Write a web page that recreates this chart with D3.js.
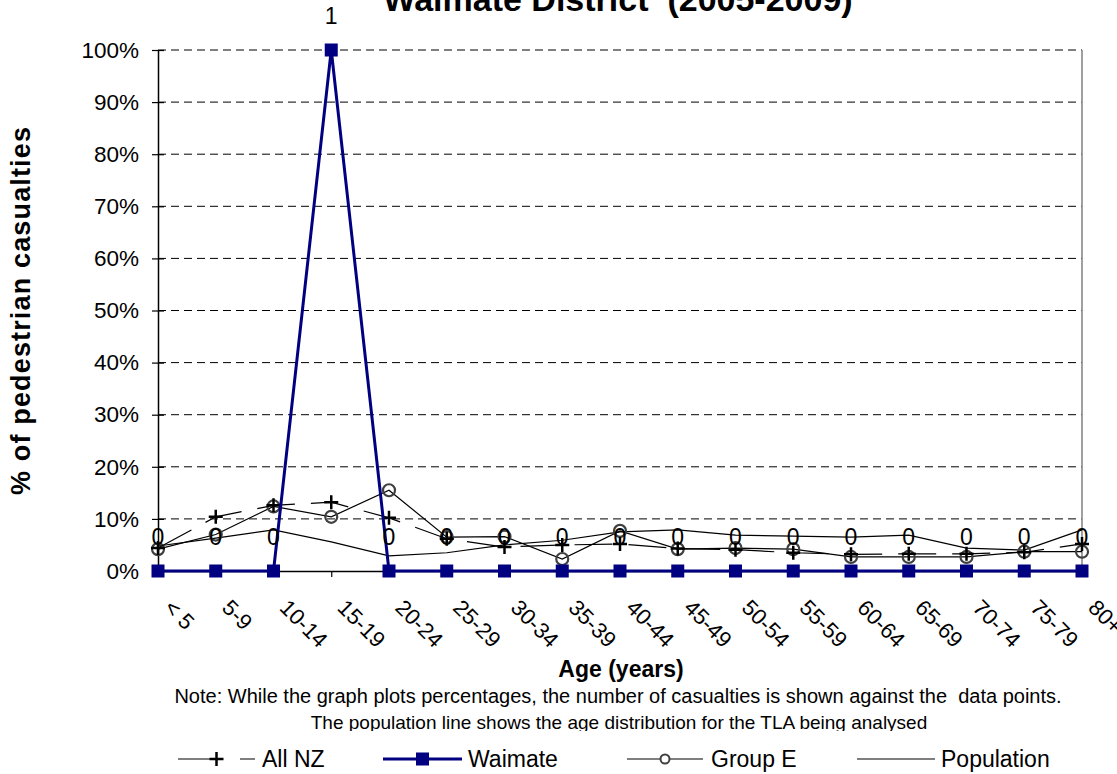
<!DOCTYPE html>
<html>
<head>
<meta charset="utf-8">
<script src="https://cdn.jsdelivr.net/npm/d3@7"></script>
<style>
  body { margin: 0; background: #fff; }
  svg { display: block; font-family: Arial, "Liberation Sans", sans-serif; }
</style>
</head>
<body>
<div class="chart"></div>
<script>
const ageGroups = ["< 5", "5-9", "10-14", "15-19", "20-24", "25-29", "30-34", "35-39", "40-44",
  "45-49", "50-54", "55-59", "60-64", "65-69", "70-74", "75-79", "80+"];
const allNZ = [4.4, 10.4, 12.6, 13.2, 10.2, 6.2, 4.6, 5.0, 5.2, 4.3, 4.1, 3.5, 3.2, 3.3, 3.3, 3.6, 5.2];
const waimate = [0, 0, 0, 100, 0, 0, 0, 0, 0, 0, 0, 0, 0, 0, 0, 0, 0];
const waimateCounts = [0, 0, 0, 1, 0, 0, 0, 0, 0, 0, 0, 0, 0, 0, 0, 0, 0];
const groupE = [4.2, 7.0, 12.4, 10.4, 15.5, 6.5, 6.6, 2.3, 7.7, 4.2, 4.4, 4.2, 2.7, 2.7, 2.7, 3.7, 3.7];
const population = [4.8, 6.3, 7.9, 5.6, 2.9, 3.5, 5.0, 5.9, 7.5, 7.9, 6.9, 6.7, 6.5, 6.9, 4.4, 4.0, 7.9];
const yTicks = [0, 10, 20, 30, 40, 50, 60, 70, 80, 90, 100];

const W = 1117, H = 774;
const plotLeft = 158, plotRight = 1082, plotTop = 50, plotBottom = 571;
const FONT = "Arial, 'Liberation Sans', sans-serif";

const svg = d3.select(".chart").append("svg")
  .attr("width", W).attr("height", H);

const x = d3.scalePoint().domain(ageGroups).range([plotLeft, plotRight]);
const y = d3.scaleLinear().domain([0, 100]).range([plotBottom, plotTop]);

// clip for the cut-off note line
svg.append("defs").append("clipPath").attr("id", "noteClip")
  .append("rect").attr("x", 0).attr("y", 0).attr("width", W).attr("height", 731);

// title (partly off the top)
svg.append("text")
  .attr("x", 618).attr("y", 11)
  .attr("text-anchor", "middle")
  .attr("xml:space", "preserve")
  .style("white-space", "pre")
  .style("font-weight", "bold").style("font-size", "34px")
  .text("Waimate District  (2005-2009)");

// gridlines
svg.append("g").selectAll("line")
  .data(yTicks.filter(d => d > 0))
  .join("line")
  .attr("x1", plotLeft).attr("x2", plotRight)
  .attr("y1", d => y(d)).attr("y2", d => y(d))
  .attr("stroke", "#000").attr("stroke-width", 1)
  .attr("stroke-dasharray", "8,5");

// right border
svg.append("line")
  .attr("x1", plotRight).attr("x2", plotRight).attr("y1", plotTop).attr("y2", plotBottom)
  .attr("stroke", "#808080").attr("stroke-width", 1.5);

// y axis
const yAxis = svg.append("g")
  .attr("transform", `translate(${plotLeft},0)`)
  .call(d3.axisLeft(y).tickValues(yTicks).tickFormat(d => d + "%").tickSizeInner(6).tickSizeOuter(0).tickPadding(13))
  .attr("font-family", FONT).attr("font-size", 22.5);
yAxis.select(".domain").attr("stroke", "#000").attr("stroke-width", 1.5);
yAxis.selectAll(".tick line").attr("x2", 6).attr("x1", -6).attr("stroke-width", 1.2);
yAxis.selectAll("text").attr("fill", "#000");

// x axis
const xAxis = svg.append("g")
  .attr("transform", `translate(0,${plotBottom})`)
  .call(d3.axisBottom(x).tickSizeInner(6).tickSizeOuter(0).tickFormat(""));
xAxis.select(".domain").attr("stroke", "#000").attr("stroke-width", 1.5);
xAxis.selectAll(".tick line").attr("stroke-width", 1.2);

svg.append("g").selectAll("text")
  .data(ageGroups)
  .join("text")
  .attr("transform", d => `translate(${x(d) + 5},${plotBottom + 38}) rotate(45)`)
  .style("font-size", "22px")
  .text(d => d);

// series
const line = d3.line().x((d, i) => x(ageGroups[i])).y(d => y(d));

svg.append("path").datum(population)
  .attr("fill", "none").attr("stroke", "#000").attr("stroke-width", 1.2)
  .attr("d", line);

svg.append("path").datum(groupE)
  .attr("fill", "none").attr("stroke", "#000").attr("stroke-width", 1.2)
  .attr("d", line);
svg.append("g").selectAll("circle")
  .data(groupE)
  .join("circle")
  .attr("cx", (d, i) => x(ageGroups[i])).attr("cy", d => y(d))
  .attr("r", 6)
  .attr("fill", "none").attr("stroke", "#404040").attr("stroke-width", 2.2);

svg.append("path").datum(allNZ)
  .attr("fill", "none").attr("stroke", "#000").attr("stroke-width", 1.2)
  .attr("stroke-dasharray", "38,16")
  .attr("d", line);
svg.append("g").selectAll("path")
  .data(allNZ)
  .join("path")
  .attr("transform", (d, i) => `translate(${x(ageGroups[i])},${y(d)})`)
  .attr("d", "M-7,0H7M0,-7V7")
  .attr("stroke", "#000").attr("stroke-width", 2.5);

svg.append("path").datum(waimate)
  .attr("fill", "none").attr("stroke", "#000080").attr("stroke-width", 3)
  .attr("d", line);
svg.append("g").selectAll("rect")
  .data(waimate)
  .join("rect")
  .attr("x", (d, i) => x(ageGroups[i]) - 6.5).attr("y", d => y(d) - 6.5)
  .attr("width", 13).attr("height", 13)
  .attr("fill", "#000080");

// casualty count labels
svg.append("g").selectAll("text")
  .data(waimate)
  .join("text")
  .attr("x", (d, i) => x(ageGroups[i]))
  .attr("y", d => y(d) - 26)
  .attr("text-anchor", "middle")
  .style("font-size", "23px")
  .text((d, i) => waimateCounts[i]);

// axis titles
svg.append("text")
  .attr("transform", "translate(30,311) rotate(-90)")
  .attr("text-anchor", "middle")
  .attr("textLength", 368).attr("lengthAdjust", "spacing")
  .style("font-weight", "bold").style("font-size", "27px")
  .text("% of pedestrian casualties");

svg.append("text")
  .attr("x", 621).attr("y", 677)
  .attr("text-anchor", "middle")
  .style("font-weight", "bold").style("font-size", "23px")
  .text("Age (years)");

const note = svg.append("g").attr("clip-path", "url(#noteClip)");
note.append("text")
  .attr("x", 618).attr("y", 703)
  .attr("text-anchor", "middle").style("font-size", "20px")
  .attr("xml:space", "preserve")
  .style("white-space", "pre")
  .text("Note: While the graph plots percentages, the number of casualties is shown against the  data points.");
note.append("text")
  .attr("x", 619).attr("y", 729)
  .attr("text-anchor", "middle").style("font-size", "19px")
  .text("The population line shows the age distribution for the TLA being analysed");

// legend
const legendY = 759;
const legendItems = [
  { name: "All NZ", x1: 178, x2: 255, tx: 262 },
  { name: "Waimate", x1: 383, x2: 462, tx: 468 },
  { name: "Group E", x1: 627, x2: 703, tx: 711 },
  { name: "Population", x1: 857, x2: 935, tx: 941 }
];
const lg = svg.append("g");
legendItems.forEach(item => {
  const cx = (item.x1 + item.x2) / 2;
  const ln = lg.append("line")
    .attr("x1", item.x1).attr("x2", item.x2)
    .attr("y1", legendY).attr("y2", legendY);
  if (item.name === "Waimate") {
    ln.attr("stroke", "#000080").attr("stroke-width", 3);
    lg.append("rect").attr("x", cx - 6.5).attr("y", legendY - 6.5)
      .attr("width", 13).attr("height", 13).attr("fill", "#000080");
  } else if (item.name === "All NZ") {
    ln.attr("stroke", "#000").attr("stroke-width", 1.2).attr("stroke-dasharray", "44,18");
    lg.append("path").attr("transform", `translate(${cx},${legendY})`)
      .attr("d", "M-7,0H7M0,-7V7").attr("stroke", "#000").attr("stroke-width", 2.5);
  } else if (item.name === "Group E") {
    ln.attr("stroke", "#000").attr("stroke-width", 1.2);
    lg.append("circle").attr("cx", cx).attr("cy", legendY).attr("r", 4.5)
      .attr("fill", "#fff").attr("stroke", "#404040").attr("stroke-width", 2);
  } else {
    ln.attr("stroke", "#000").attr("stroke-width", 1.2);
  }
  lg.append("text")
    .attr("x", item.tx).attr("y", legendY + 8)
    .style("font-size", "23px")
    .text(item.name);
});
</script>
</body>
</html>
